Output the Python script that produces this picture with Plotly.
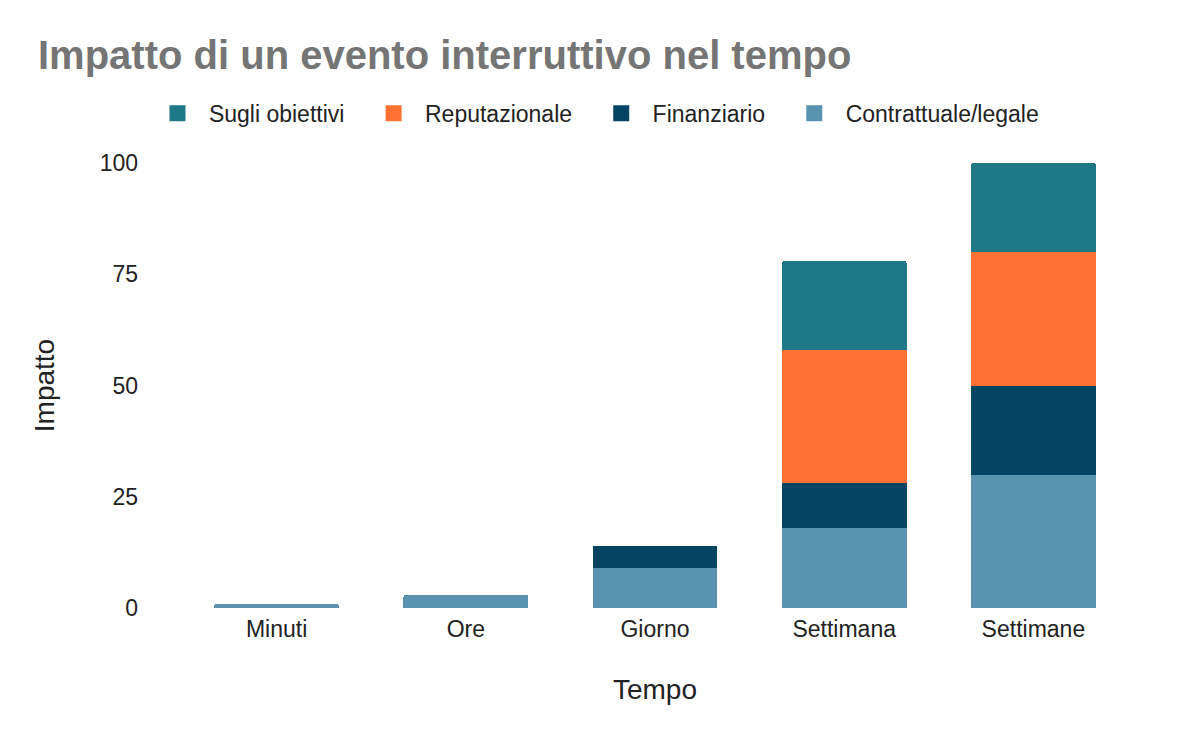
import plotly.graph_objects as go

# Data
categories = ["Minuti", "Ore", "Giorno", "Settimana", "Settimane"]
contrattuale = [1, 3, 9, 18, 30]
finanziario = [0, 0, 5, 10, 20]
reputazionale = [0, 0, 0, 30, 30]
obiettivi = [0, 0, 0, 20, 20]

series = [
    ("Contrattuale/legale", contrattuale, "#5993B0"),
    ("Finanziario", finanziario, "#034462"),
    ("Reputazionale", reputazionale, "#FF7033"),
    ("Sugli obiettivi", obiettivi, "#1F7886"),
]

fig = go.Figure()
for name, vals, color in series:
    fig.add_trace(go.Bar(x=categories, y=vals, name=name, marker_color=color,
                         marker_line_width=0, showlegend=False))

# legend-only entries, to get bigger square swatches (nbsp for spacing)
for name, vals, color in series:
    fig.add_trace(go.Scatter(x=[None], y=[None], mode="markers",
                             name="&nbsp;" + name + "&nbsp;&nbsp;&nbsp;",
                             marker=dict(symbol="square", size=16, color=color)))

fig.update_layout(
    width=1200, height=742,
    barmode="stack",
    bargap=0.34,
    barcornerradius=3,
    plot_bgcolor="white",
    paper_bgcolor="white",
    font=dict(family="Arial", size=23, color="#222222"),
    title=dict(text="<b>Impatto di un evento interruttivo nel tempo</b>",
               font=dict(size=40, color="#757575"),
               x=0.025, xanchor="left", y=0.937, yanchor="middle"),
    legend=dict(orientation="h", traceorder="reversed", itemsizing="trace",
                itemwidth=40,
                xref="container", x=0.5, xanchor="center",
                yref="container", y=0.858, yanchor="middle",
                font=dict(size=23)),
    margin=dict(l=174, r=80, t=155, b=142),
)

fig.update_xaxes(title_text="Tempo", title_standoff=38, showgrid=False,
                 showline=False, ticks="", ticklabelstandoff=5)
fig.update_yaxes(title_text="Impatto", range=[0, 100], tickvals=[0, 25, 50, 75, 100],
                 showgrid=False, zeroline=False, showline=False, ticks="",
                 ticklabelstandoff=43, title_standoff=36)

fig.write_html("out.html")
